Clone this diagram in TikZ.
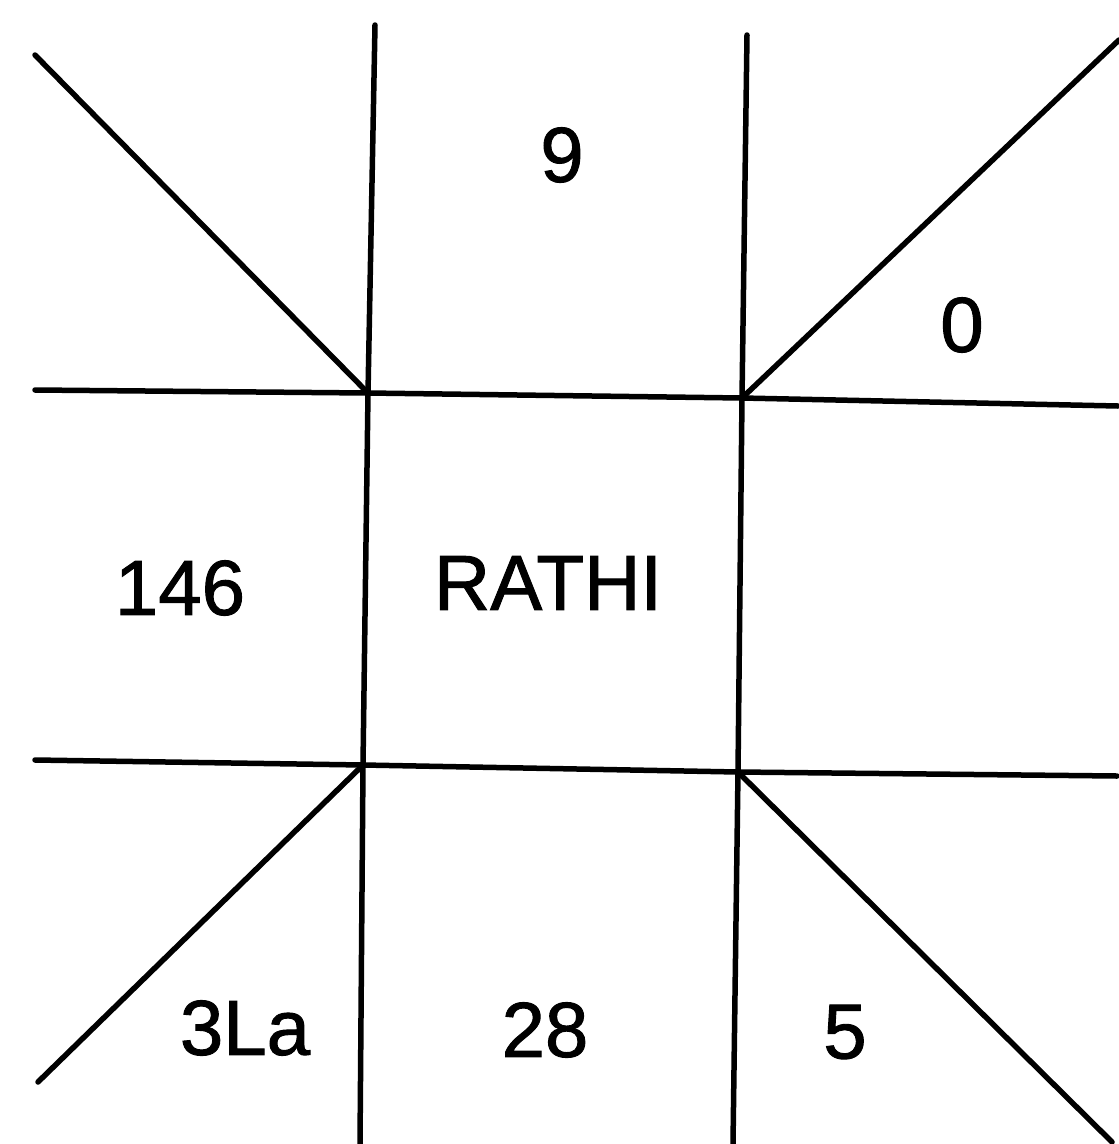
\documentclass[tikz,border=0pt]{standalone}
\usepackage{fontspec}
\setmainfont{Liberation Sans}
\newfontfamily\lblfont[FakeBold=1.2]{Liberation Sans}
\begin{document}
\begin{tikzpicture}[x=1pt,y=-1pt,
  ln/.style={line width=5.5pt,line cap=round},
  lbl/.style={font=\lblfont\fontsize{78}{90}\selectfont,inner sep=0pt}]
\useasboundingbox[fill=white] (0,0) rectangle (1119,1144);
% intersections
\coordinate (A) at (368,393);
\coordinate (B) at (742,398);
\coordinate (C) at (363,765);
\coordinate (D) at (738,772);
% line ends
\coordinate (Lt) at (375,25);
\coordinate (Lb) at (360,1144);
\coordinate (Rt) at (747,35);
\coordinate (Rb) at (733,1144);
\coordinate (Hl1) at (35,390);
\coordinate (Hr1) at (1118,406);
\coordinate (Hl2) at (35,760);
\coordinate (Hr2) at (1117,776);
\coordinate (TL) at (35,55);
\coordinate (TR) at (1119,40);
\coordinate (BL) at (38,1082);
\coordinate (BR) at (1112,1142);
\draw[ln] (Lt) -- (A) -- (C) -- (Lb);
\draw[ln] (Rt) -- (B) -- (D) -- (Rb);
\draw[ln] (Hl1) -- (A) -- (B) -- (Hr1);
\draw[ln] (Hl2) -- (C) -- (D) -- (Hr2);
\draw[ln] (TL) -- (A);
\draw[ln] (B) -- (TR);
\draw[ln] (C) -- (BL);
\draw[ln] (D) -- (BR);
% labels
\node[lbl] (n9) at (562,155) {9};
\node[lbl] (n0) at (962,325) {0};
\node[lbl] (n146) at (180,588) {146};
\node[lbl] (rathi) at (548,583) {RATHI};
\node[lbl] (n3la) at (245,1028) {3La};
\node[lbl] (n28) at (545,1030) {28};
\node[lbl] (n5) at (845,1032) {5};
\end{tikzpicture}
\end{document}
